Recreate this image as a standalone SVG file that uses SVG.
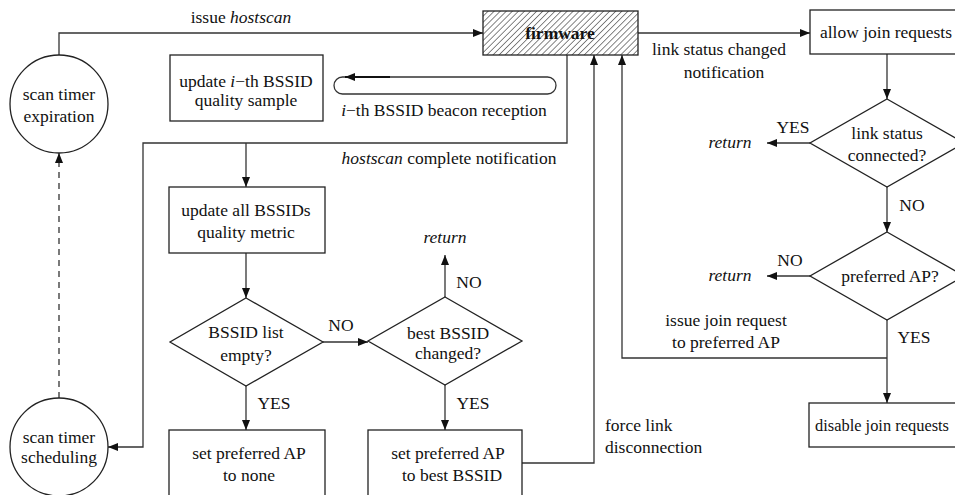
<svg xmlns="http://www.w3.org/2000/svg" width="955" height="495" viewBox="0 0 955 495">
  <style>
    text { font-family: "Liberation Serif", "Times New Roman", serif; font-size: 17.5px; fill: #111; }
    .c { text-anchor: middle; }
    .i { font-style: italic; }
    .b { font-weight: bold; }
    .shape { fill: #fff; stroke: #222; stroke-width: 1.3; }
    .wire { fill: none; stroke: #333; stroke-width: 1.3; }
    .dash { stroke-dasharray: 6 5; }
  </style>
  <defs>
    <marker id="arr" viewBox="0 0 10 8" refX="10" refY="4" markerWidth="10" markerHeight="8" markerUnits="userSpaceOnUse" orient="auto">
      <path d="M0,0 L10,4 L0,8 Z" fill="#111"/>
    </marker>
    <pattern id="hatch" width="4.3" height="10" patternUnits="userSpaceOnUse" patternTransform="rotate(45)">
      <line x1="0" y1="0" x2="0" y2="10" stroke="#222" stroke-width="1.1"/>
    </pattern>
  </defs>

  <rect width="955" height="495" fill="#fff"/>

  <!-- connectors -->
  <g id="connectors">
    <path class="wire" d="M59,56 V33 H483" marker-end="url(#arr)"/>
    <path class="wire" d="M638,33 H810" marker-end="url(#arr)"/>
    <path class="wire" d="M887,54 V99" marker-end="url(#arr)"/>
    <path class="wire" d="M810,143 H767" marker-end="url(#arr)"/>
    <path class="wire" d="M887,187 V232" marker-end="url(#arr)"/>
    <path class="wire" d="M810,276 H767" marker-end="url(#arr)"/>
    <path class="wire" d="M887,320 V403" marker-end="url(#arr)"/>
    <path class="wire" d="M887,358 H622 V55" marker-end="url(#arr)"/>
    <path class="wire" d="M567,55 V143 H143 V447 H108" marker-end="url(#arr)"/>
    <path class="wire" d="M246,143 V187" marker-end="url(#arr)"/>
    <path class="wire" d="M246,253 V298" marker-end="url(#arr)"/>
    <path class="wire" d="M323,342 H368" marker-end="url(#arr)"/>
    <path class="wire" d="M246,386 V430" marker-end="url(#arr)"/>
    <path class="wire" d="M445,297 V255" marker-end="url(#arr)"/>
    <path class="wire" d="M445,385 V430" marker-end="url(#arr)"/>
    <path class="wire" d="M522,463 H594 V55" marker-end="url(#arr)"/>
    <path class="wire dash" d="M59,398 V153" marker-end="url(#arr)"/>
    <!-- beacon reception loop -->
    <rect class="wire" x="334" y="77" width="222" height="17" rx="8.5"/>
    <path d="M390,77 H345" stroke="#111" stroke-width="1.8" fill="none" marker-end="url(#arr)"/>
  </g>

  <!-- connector labels -->
  <g id="labels">
    <text class="c" x="241" y="23">issue <tspan class="i">hostscan</tspan></text>
    <text class="c" x="444" y="116"><tspan class="i">i</tspan>−th BSSID beacon reception</text>
    <text class="c" x="449" y="164"><tspan class="i">hostscan</tspan> complete notification</text>
    <text class="c" x="719" y="55">link status changed</text>
    <text class="c" x="724" y="78">notification</text>
    <text class="c" x="793" y="133">YES</text>
    <text class="c i" x="730" y="148">return</text>
    <text class="c" x="912" y="211">NO</text>
    <text class="c" x="790" y="266">NO</text>
    <text class="c i" x="730" y="281">return</text>
    <text class="c" x="726" y="326">issue join request</text>
    <text class="c" x="726" y="348">to preferred AP</text>
    <text class="c" x="914" y="343">YES</text>
    <text x="605" y="431">force link</text>
    <text x="605" y="453">disconnection</text>
    <text class="c" x="274" y="409">YES</text>
    <text class="c" x="341" y="331">NO</text>
    <text class="c" x="469" y="288">NO</text>
    <text class="c i" x="445" y="243">return</text>
    <text class="c" x="473" y="409">YES</text>
  </g>

  <!-- nodes -->
  <g id="firmware">
    <rect x="483" y="11" width="155" height="44" fill="url(#hatch)" stroke="#222" stroke-width="1.3"/>
    <text class="c b" x="560" y="39">firmware</text>
  </g>

  <g id="scan-timer-expiration">
    <circle class="shape" cx="59" cy="104" r="49"/>
    <text class="c" x="59" y="100">scan timer</text>
    <text class="c" x="59" y="122">expiration</text>
  </g>

  <g id="scan-timer-scheduling">
    <circle class="shape" cx="59" cy="447" r="49"/>
    <text class="c" x="59" y="443">scan timer</text>
    <text class="c" x="59" y="463">scheduling</text>
  </g>

  <g id="update-sample">
    <rect class="shape" x="170" y="55" width="153" height="66"/>
    <text class="c" x="246" y="87">update  <tspan class="i">i</tspan>−th BSSID</text>
    <text class="c" x="246" y="106">quality sample</text>
  </g>

  <g id="update-metric">
    <rect class="shape" x="169" y="187" width="156" height="66"/>
    <text class="c" x="246" y="216">update all BSSIDs</text>
    <text class="c" x="246" y="238">quality metric</text>
  </g>

  <g id="list-empty">
    <polygon class="shape" points="246,298 323,342 246,386 170,342"/>
    <text class="c" x="246" y="338">BSSID list</text>
    <text class="c" x="246" y="361">empty?</text>
  </g>

  <g id="best-changed">
    <polygon class="shape" points="445,297 522,341 445,385 368,341"/>
    <text class="c" x="448" y="339">best BSSID</text>
    <text class="c" x="448" y="359">changed?</text>
  </g>

  <g id="set-none">
    <rect class="shape" x="169" y="430" width="156" height="67"/>
    <text class="c" x="249" y="459">set preferred AP</text>
    <text class="c" x="249" y="481">to none</text>
  </g>

  <g id="set-best">
    <rect class="shape" x="368" y="430" width="154" height="67"/>
    <text class="c" x="448" y="459">set preferred AP</text>
    <text class="c" x="452" y="481">to best BSSID</text>
  </g>

  <g id="allow-join">
    <rect class="shape" x="810" y="10" width="156" height="44"/>
    <text class="c" x="886" y="38" textLength="132" lengthAdjust="spacingAndGlyphs">allow join requests</text>
  </g>

  <g id="link-connected">
    <polygon class="shape" points="887,99 964,143 887,187 810,143"/>
    <text class="c" x="887" y="139">link status</text>
    <text class="c" x="887" y="161">connected?</text>
  </g>

  <g id="preferred-ap">
    <polygon class="shape" points="887,232 964,276 887,320 810,276"/>
    <text class="c" x="890" y="282">preferred AP?</text>
  </g>

  <g id="disable-join">
    <rect class="shape" x="809" y="403" width="156" height="44"/>
    <text class="c" x="882" y="431" textLength="134" lengthAdjust="spacingAndGlyphs">disable join requests</text>
  </g>
</svg>
